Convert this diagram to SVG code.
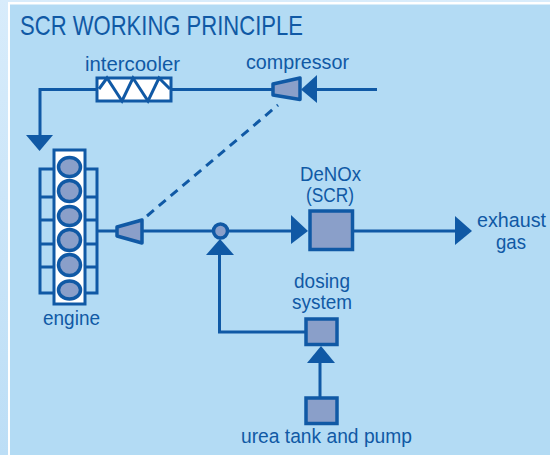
<svg xmlns="http://www.w3.org/2000/svg" width="550" height="455" viewBox="0 0 550 455">
<style>
.t{font-family:"Liberation Sans",Arial,sans-serif;font-size:20.500px;fill:#1059a5;text-anchor:start}
.l{fill:none;stroke:#1059a5;stroke-width:3}
.b{fill:#8a9fc9;stroke:#1059a5;stroke-width:3.500}
.a{fill:#1059a5}
</style>
<defs>
<linearGradient id="bg" x1="0" y1="0" x2="0" y2="1"><stop offset="0" stop-color="#d8ecfb"/><stop offset="1" stop-color="#bcdef6"/></linearGradient>
</defs>
<rect width="550" height="455" fill="url(#bg)"/>
<rect x="8" y="2" width="542" height="453" fill="#fff"/>
<rect x="10" y="4.500" width="540" height="450.500" fill="#b3dbf4"/>
<text class="t" x="20" y="35" style="font-size:27.500px" textLength="283" lengthAdjust="spacingAndGlyphs">SCR WORKING PRINCIPLE</text>
<g id="connectors">
<path class="l" d="M97 89.500H40V136"/>
<path class="l" d="M171 89.500H273"/>
<path class="l" d="M317 89.500H377"/>
<path class="l" d="M97 231H116"/>
<path class="l" d="M143 231H292"/>
<path class="l" d="M353 231H456"/>
<path class="l" d="M219.500 254V332H306"/>
<path class="l" d="M320 362V398"/>
<path class="l" d="M147 216L278 105" stroke-dasharray="9 6.500"/>
<polygon class="a" points="26,135 53,135 39.500,151"/>
<polygon class="a" points="317,75 317,103 301,89.500"/>
<polygon class="a" points="291,215 291,244 308,231"/>
<polygon class="a" points="455,216 455,245 472,231"/>
<polygon class="a" points="206,255 234,255 220,239"/>
<polygon class="a" points="307,363 335,363 321,346"/>
</g>
<g id="intercooler">
<rect x="97" y="78" width="74" height="23" fill="#fff" stroke="#1059a5" stroke-width="3"/>
<polyline class="l" points="99,89 107,78 122,101 133,78 148,101 159,78 170,89"/>
<text class="t" x="85" y="71" textLength="95" lengthAdjust="spacingAndGlyphs">intercooler</text>
</g>
<g id="compressor">
<polygon class="b" points="273,84 300,78 300,99.500 273,95" stroke-linejoin="round"/>
<text class="t" x="246" y="69" textLength="103" lengthAdjust="spacingAndGlyphs">compressor</text>
</g>
<g id="engine">
<path class="l" d="M53 169H40V293H53M53 197H40M53 220H40M53 244H40M53 267H40M85 169H97V293H85M85 197H97M85 220H97M85 244H97M85 267H97"/>
<rect x="54" y="150" width="31" height="154" fill="#fff" stroke="#1059a5" stroke-width="3"/>
<ellipse class="b" cx="69.500" cy="167" rx="11" ry="9.500"/>
<ellipse class="b" cx="69.500" cy="191" rx="11" ry="10.500"/>
<ellipse class="b" cx="69.500" cy="216" rx="11" ry="9.500"/>
<ellipse class="b" cx="69.500" cy="240" rx="11" ry="10.500"/>
<ellipse class="b" cx="69.500" cy="265" rx="11" ry="10.500"/>
<ellipse class="b" cx="69.500" cy="290" rx="11" ry="9"/>
<text class="t" x="43" y="325" textLength="57" lengthAdjust="spacingAndGlyphs">engine</text>
</g>
<g id="turbine">
<polygon class="b" points="117,227 142,220 142,243 117,236" stroke-linejoin="round"/>
</g>
<g id="junction">
<circle class="b" cx="220.500" cy="231" r="7"/>
</g>
<g id="denox">
<rect class="b" x="310" y="211" width="42.500" height="38.500"/>
<text class="t" x="300" y="180.500" textLength="61" lengthAdjust="spacingAndGlyphs">DeNOx</text>
<text class="t" x="306" y="201.500" textLength="48" lengthAdjust="spacingAndGlyphs">(SCR)</text>
</g>
<g id="exhaust">
<text class="t" x="477" y="227" textLength="69" lengthAdjust="spacingAndGlyphs">exhaust</text>
<text class="t" x="496" y="249" textLength="30" lengthAdjust="spacingAndGlyphs">gas</text>
</g>
<g id="dosing">
<rect class="b" x="306" y="319" width="31" height="25.500"/>
<text class="t" x="294" y="288" textLength="56" lengthAdjust="spacingAndGlyphs">dosing</text>
<text class="t" x="292" y="309" textLength="60" lengthAdjust="spacingAndGlyphs">system</text>
</g>
<g id="urea">
<rect class="b" x="306" y="398" width="31" height="25.500"/>
<text class="t" x="241" y="443" textLength="171" lengthAdjust="spacingAndGlyphs">urea tank and pump</text>
</g>
</svg>
